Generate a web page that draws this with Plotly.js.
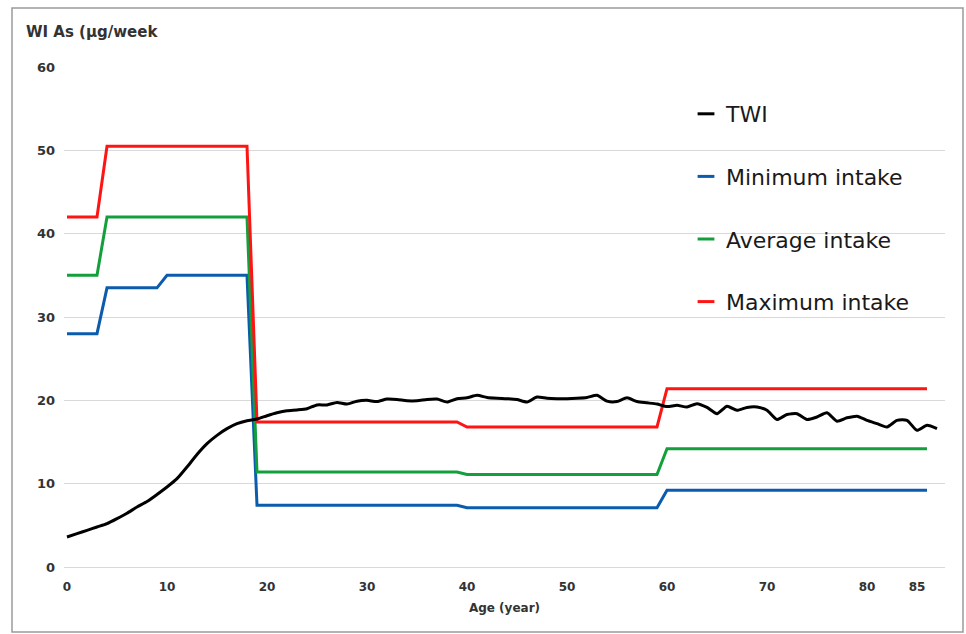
<!DOCTYPE html>
<html><head><meta charset="utf-8">
<script src="https://cdn.plot.ly/plotly-3.0.1.min.js"></script>
<style>html,body{margin:0;padding:0;background:#fff;} #chart{width:966px;height:634px;}</style>
</head><body><div id="chart"></div>
<script>
// Age (years) for the TWI curve
const ages = [0,1,2,3,4,5,6,7,8,9,10,11,12,13,14,15,16,17,18,19,20,21,22,23,24,25,26,27,28,29,
  30,31,32,33,34,35,36,37,38,39,40,41,42,43,44,45,46,47,48,49,50,51,52,53,54,55,56,57,58,59,
  60,61,62,63,64,65,66,67,68,69,70,71,72,73,74,75,76,77,78,79,80,81,82,83,84,85,86,87];
// Tolerable weekly intake (µg/week)
const twi = [3.6,4.0,4.4,4.8,5.2,5.8,6.45,7.2,7.85,8.7,9.6,10.6,12.0,13.5,14.8,15.8,16.6,17.2,17.55,17.75,
  18.15,18.5,18.75,18.85,19.0,19.45,19.45,19.75,19.55,19.9,20.0,19.85,20.15,20.1,19.95,19.95,20.1,20.15,19.8,20.2,
  20.3,20.6,20.35,20.25,20.2,20.1,19.8,20.4,20.25,20.2,20.2,20.25,20.35,20.6,19.9,19.85,20.3,19.85,19.7,19.55,
  19.25,19.4,19.2,19.6,19.15,18.4,19.3,18.8,19.15,19.2,18.8,17.7,18.3,18.4,17.7,18.0,18.5,17.5,17.9,18.1,
  17.6,17.2,16.8,17.6,17.6,16.4,17.0,16.6];
// Weekly intake: ages at which the intake groups start / end
const intakeAges = [0,3,4,9,10,18,19,39,40,59,60,86];
const minIntake = [28,28,33.5,33.5,35,35,7.4,7.4,7.1,7.1,9.2,9.2];
const avgIntake = [35,35,42,42,42,42,11.4,11.4,11.1,11.1,14.2,14.2];
const maxIntake = [42,42,50.5,50.5,50.5,50.5,17.4,17.4,16.8,16.8,21.4,21.4];

const seriesNames = ['TWI','Minimum intake','Average intake','Maximum intake'];
const seriesColors = ['#000000','#0b5cad','#13a03c','#ff1414'];
const xTicks = [0,10,20,30,40,50,60,70,80,85];
const yTicks = [0,10,20,30,40,50,60];

const lineW = 3;
function lineTrace(x, y, i) {
  return {x: x, y: y, type: 'scatter', mode: 'lines', name: seriesNames[i],
    line: {color: seriesColors[i], width: lineW, shape: i === 0 ? 'spline' : 'linear', smoothing: 0.6},
    showlegend: false, hoverinfo: 'skip'};
}
function legendTrace(i) {
  return {x: [null], y: [null], type: 'scatter', mode: 'markers', name: seriesNames[i],
    legendgroup: 'g' + i,
    marker: {symbol: 'line-ew', size: 12, color: seriesColors[i], line: {color: seriesColors[i], width: 3}},
    showlegend: true};
}
const data = [
  lineTrace(intakeAges, minIntake, 1),
  lineTrace(intakeAges, avgIntake, 2),
  lineTrace(intakeAges, maxIntake, 3),
  lineTrace(ages, twi, 0),
  legendTrace(0), legendTrace(1), legendTrace(2), legendTrace(3)
];

const L = 64, R = 21, T = 67, B = 67, W = 966, H = 634;
const pw = W - L - R, ph = H - T - B;
const px2x = p => (p - L) / pw;
const py2y = p => (H - B - p) / ph;
const tickFont = {family: 'DejaVu Sans', size: 13, color: '#333333', weight: 'bold'};

const layout = {
  width: W, height: H,
  margin: {l: L, r: R, t: T, b: B},
  paper_bgcolor: '#ffffff', plot_bgcolor: '#ffffff',
  showlegend: true,
  legend: {x: px2x(686), y: py2y(93), xanchor: 'left', yanchor: 'top',
    bgcolor: 'rgba(0,0,0,0)', borderwidth: 0, tracegroupgap: 31,
    font: {family: 'DejaVu Sans', size: 22, color: '#1a1a1a'}},
  xaxis: {range: [-0.3, 87.8], tickvals: xTicks, ticktext: xTicks.map(String),
    showgrid: false, zeroline: false, showline: false, ticks: '',
    ticklabelstandoff: 11,
    tickfont: {family: 'DejaVu Sans', size: 12, color: '#333333', weight: 'bold'},
    title: {text: 'Age (year)', standoff: 10,
      font: {family: 'DejaVu Sans', size: 12, color: '#333333', weight: 'bold'}}},
  yaxis: {range: [0, 60], tickvals: yTicks, ticktext: yTicks.map(String),
    showgrid: true, gridcolor: '#d9d9d9', gridwidth: 1,
    zeroline: true, zerolinecolor: '#d9d9d9', zerolinewidth: 1,
    showline: false, ticks: '', ticklabelstandoff: 8, tickfont: tickFont},
  annotations: [{text: 'WI As (µg/week', xref: 'paper', yref: 'paper',
    x: px2x(24), y: py2y(32), xanchor: 'left', yanchor: 'middle', showarrow: false,
    font: {family: 'DejaVu Sans', size: 15, color: '#333333', weight: 'bold'}}],
  shapes: [{type: 'rect', xref: 'paper', yref: 'paper',
    x0: px2x(12), x1: px2x(963), y0: py2y(632), y1: py2y(8),
    line: {color: '#9a9a9a', width: 1.5}, fillcolor: 'rgba(0,0,0,0)', layer: 'below'}]
};

Plotly.newPlot('chart', data, layout, {displayModeBar: false, staticPlot: true});
</script>
</body></html>
